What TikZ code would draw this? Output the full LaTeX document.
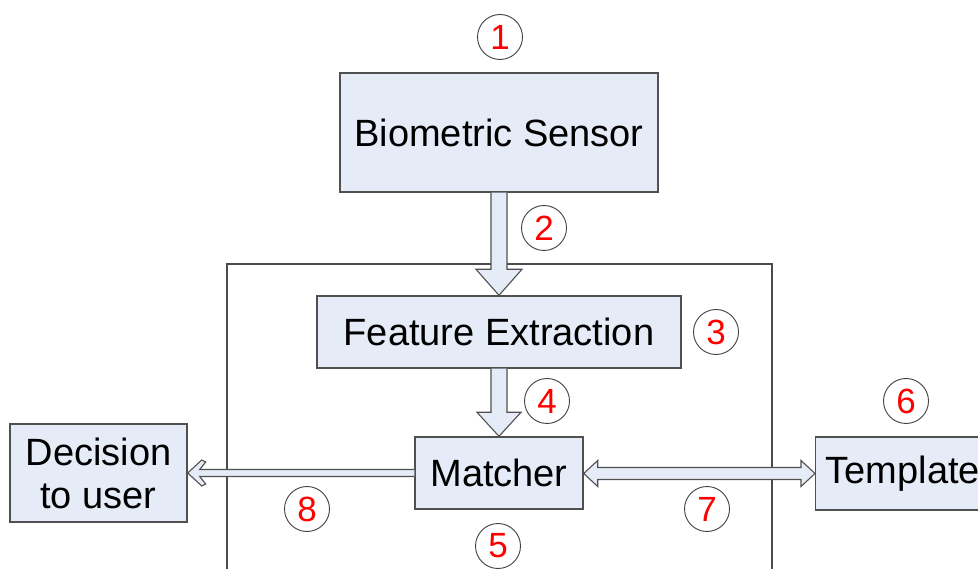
\documentclass[tikz,border=0pt]{standalone}
\usepackage{fontspec}
\setmainfont{Liberation Sans}
\usetikzlibrary{calc}
\definecolor{boxfill}{HTML}{E6ECF7}
\definecolor{edge}{HTML}{505050}
\tikzset{
  box/.style={draw=edge, line width=1.4pt, fill=boxfill, inner sep=0pt, font=\fontsize{38}{43}\selectfont},
  blockarrow/.style={draw=edge, line width=1.1pt, fill=boxfill, line join=miter},
  num/.style={circle, draw=black!75, line width=0.9pt, minimum size=45pt, inner sep=0pt, text=red, font=\fontsize{35}{35}\selectfont},
  frameline/.style={draw=black!70, line width=1.1pt}
}
\begin{document}
\begin{tikzpicture}[x=1pt,y=-1pt]
\clip (0,0) rectangle (978,569);
\fill[white] (0,0) rectangle (978,569);
\draw[frameline] (227,600) -- (227,264) -- (772,264) -- (772,600);
\node[box, minimum width=318pt, minimum height=119pt] (bs) at (499,132.5) {Biometric Sensor};
\node[box, minimum width=364pt, minimum height=72pt] (fe) at (499,332) {Feature Extraction};
\node[box, minimum width=168pt, minimum height=72pt] (mt) at (499,473) {Matcher};
\node[box, minimum width=177pt, minimum height=98pt, align=center] (dec) at (98.5,473) {Decision\\to user};
\node[box, minimum width=190pt, minimum height=73pt, anchor=west, text width=170pt, align=left] (tpl) at (815,473.5) {Template};
% arrow 2
\draw[blockarrow] ($(bs.south)+(-8,0)$) -- ($(fe.north)+(-8,-26)$) -- ($(fe.north)+(-23,-26)$) -- (fe.north) -- ($(fe.north)+(23,-26)$) -- ($(fe.north)+(8,-26)$) -- ($(bs.south)+(8,0)$);
% arrow 4
\draw[blockarrow] ($(fe.south)+(-8,0)$) -- ($(mt.north)+(-8,-24)$) -- ($(mt.north)+(-22,-24)$) -- (mt.north) -- ($(mt.north)+(22,-24)$) -- ($(mt.north)+(8,-24)$) -- ($(fe.south)+(8,0)$);
% arrow 8
\draw[blockarrow] ($(mt.west)+(0,-3.5)$) -- ($(dec.east)+(12,-3.5)$) -- ($(dec.east)+(18,-11)$) -- ($(dec.east)+(14,-13)$) -- (dec.east) -- ($(dec.east)+(14,13)$) -- ($(dec.east)+(18,11)$) -- ($(dec.east)+(12,3.5)$) -- ($(mt.west)+(0,3.5)$);
% arrow 7
\draw[blockarrow] ($(mt.east)+(0,0.5)$) -- ($(mt.east)+(14,-12.5)$) -- ($(mt.east)+(14,-5.5)$) -- ($(tpl.west)+(-14,-6)$) -- ($(tpl.west)+(-14,-13)$) -- (tpl.west) -- ($(tpl.west)+(-14,13)$) -- ($(tpl.west)+(-14,6)$) -- ($(mt.east)+(14,6.5)$) -- ($(mt.east)+(14,13.5)$) -- cycle;
% numbers
\node[num] (n1) at (500,37) {1};
\node[num] (n2) at (544,228) {2};
\node[num] (n3) at (716,332) {3};
\node[num] (n4) at (547,401) {4};
\node[num] (n5) at (498,546) {5};
\node[num] (n6) at (906,401) {6};
\node[num] (n7) at (707,509) {7};
\node[num] (n8) at (307,509) {8};
\end{tikzpicture}
\end{document}
